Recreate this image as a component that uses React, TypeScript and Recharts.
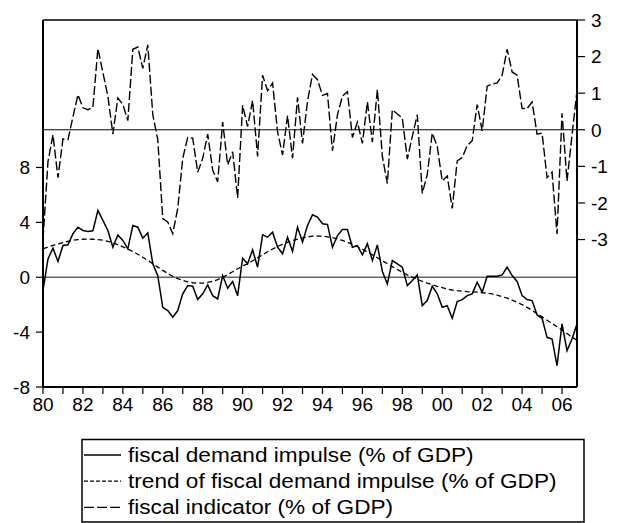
import { LineChart, Line, XAxis, YAxis, ReferenceLine } from 'recharts'

// quarterly, 1980Q1 .. 2006Q4
const yearLabels = [
  '80', '81', '82', '83', '84', '85', '86', '87', '88', '89',
  '90', '91', '92', '93', '94', '95', '96', '97', '98', '99',
  '00', '01', '02', '03', '04', '05', '06',
]

// fiscal demand impulse (% of GDP), left axis
const demandImpulse = [
  -0.97, 1.34, 2.12, 1.15, 2.31, 2.36, 3.17, 3.65, 3.41, 3.34,
  3.39, 4.87, 4.14, 3.41, 2.19, 3.09, 2.68, 2.07, 3.77, 3.65,
  2.85, 3.24, 0.98, 0.12, -2.19, -2.43, -2.92, -2.43, -1.21, -0.61,
  -0.66, -1.63, -1.21, -0.56, -1.34, -1.58, 0.12, -0.8, -0.31, -1.34,
  1.39, 0.98, 2.0, 0.73, 3.09, 2.92, 3.28, 2.19, 1.71, 2.92,
  1.88, 3.65, 2.56, 3.77, 4.55, 4.38, 3.9, 3.85, 2.19, 3.04,
  3.48, 3.48, 2.19, 2.31, 1.63, 2.44, 1.22, 2.36, 0.42, -0.48,
  1.22, 0.98, 0.73, -0.61, -0.24, 0.17, -2.07, -1.7, -0.66, -1.21,
  -2.19, -2.07, -2.99, -1.77, -1.63, -1.34, -1.21, -0.36, -1.09, 0.07,
  0.07, 0.07, 0.17, 0.73, 0.12, -0.31, -1.34, -1.63, -1.7, -2.75,
  -2.99, -4.38, -4.5, -6.45, -3.4, -5.35, -4.5, -3.4,
]

// trend of fiscal demand impulse, left axis
const demandTrend = [
  2.07, 2.2, 2.32, 2.43, 2.53, 2.62, 2.69, 2.74, 2.77, 2.78,
  2.77, 2.74, 2.7, 2.62, 2.5, 2.37, 2.22, 2.06, 1.88, 1.68,
  1.46, 1.22, 0.98, 0.74, 0.5, 0.27, 0.07, -0.1, -0.23, -0.33,
  -0.4, -0.43, -0.43, -0.38, -0.3, -0.17, 0.0, 0.19, 0.4, 0.62,
  0.82, 0.98, 1.2, 1.42, 1.64, 1.86, 2.06, 2.24, 2.4, 2.54,
  2.67, 2.78, 2.87, 2.94, 2.99, 3.0, 2.99, 2.95, 2.88, 2.79,
  2.68, 2.55, 2.4, 2.23, 2.04, 1.84, 1.63, 1.42, 1.2, 0.98,
  0.77, 0.56, 0.36, 0.17, 0.0, -0.15, -0.3, -0.43, -0.55, -0.66,
  -0.76, -0.85, -0.93, -0.98, -1.02, -1.05, -1.07, -1.09, -1.12, -1.16,
  -1.22, -1.3, -1.41, -1.53, -1.67, -1.83, -2.0, -2.2, -2.42, -2.65,
  -2.89, -3.13, -3.37, -3.61, -3.85, -4.1, -4.36, -4.6,
]

// fiscal indicator (% of GDP), right axis
const fiscalIndicator = [
  -3.0, -0.87, -0.14, -1.31, -0.25, -0.27, 0.35, 0.96, 0.6, 0.55,
  0.61, 2.22, 1.56, 0.92, -0.12, 0.87, 0.69, 0.25, 2.2, 2.26,
  1.68, 2.32, 0.41, -0.27, -2.43, -2.52, -2.84, -2.15, -0.78, -0.21,
  -0.23, -1.16, -0.78, -0.12, -1.1, -1.42, 0.21, -0.96, -0.6, -1.86,
  0.67, 0.09, 0.8, -0.73, 1.49, 1.07, 1.28, -0.05, -0.69, 0.39,
  -0.78, 0.89, -0.37, 0.78, 1.51, 1.37, 0.94, 0.99, -0.58, 0.41,
  0.92, 1.04, -0.21, 0.21, -0.37, 0.76, -0.34, 1.1, -0.73, -1.47,
  0.55, 0.43, 0.32, -0.8, -0.18, 0.41, -1.74, -1.22, -0.09, -0.46,
  -1.4, -1.26, -2.15, -0.85, -0.76, -0.43, -0.3, 0.69, -0.03, 1.19,
  1.25, 1.28, 1.49, 2.2, 1.58, 1.49, 0.58, 0.58, 0.76, -0.12,
  -0.09, -1.31, -1.16, -2.85, 0.45, -1.4, -0.15, 1.07,
]

const leftTicks = [-8, -4, 0, 4, 8]
const rightTicks = [-3, -2, -1, 0, 1, 2, 3]

const legendItems = [
  { label: 'fiscal demand impulse (% of GDP)', dash: undefined },
  { label: 'trend of fiscal demand impulse (% of GDP)', dash: '4 2' },
  { label: 'fiscal indicator (% of GDP)', dash: '10 3' },
]

const data = demandImpulse.map((v, i) => ({
  q: i,
  impulse: v,
  trend: demandTrend[i],
  indicator: fiscalIndicator[i],
}))

const xTicks = yearLabels.map((_, k) => k * 4)
const FONT = '"Liberation Sans", Arial, sans-serif'

function YearTick(props: any) {
  const { x, y, payload } = props
  const k = Math.round(payload.value / 4)
  if (k % 2 !== 0) return <g />
  return (
    <text x={x} y={y} dy="0.71em" textAnchor="middle" fontSize={19} fill="#000" fontFamily={FONT}>
      {yearLabels[k]}
    </text>
  )
}

export default function App() {
  return (
    <div style={{ position: 'absolute', left: 0, top: 0, width: 617, height: 523, background: '#fff', fontFamily: FONT }}>
      <LineChart width={617} height={417} data={data} margin={{ top: 20, right: 0, bottom: 0, left: 0 }}>
        <XAxis
          dataKey="q"
          type="number"
          domain={[0, 107]}
          ticks={xTicks}
          interval={0}
          tick={<YearTick />}
          tickSize={7}
          tickMargin={4}
          height={30}
          axisLine={{ stroke: '#000', strokeWidth: 2 }}
          tickLine={{ stroke: '#000', strokeWidth: 1.2 }}
        />
        <YAxis
          yAxisId="left"
          domain={[-8, 18.75]}
          ticks={leftTicks}
          width={43}
          tickSize={7}
          tickMargin={6}
          tick={{ fontSize: 19, fill: '#000', fontFamily: FONT }}
          axisLine={{ stroke: '#000', strokeWidth: 2 }}
          tickLine={{ stroke: '#000', strokeWidth: 1.2 }}
        />
        <YAxis
          yAxisId="right"
          orientation="right"
          domain={[-7.03, 3]}
          ticks={rightTicks}
          width={40}
          tickSize={8}
          tickMargin={6}
          tick={{ fontSize: 19, fill: '#000', fontFamily: FONT }}
          axisLine={{ stroke: '#000', strokeWidth: 2 }}
          tickLine={{ stroke: '#000', strokeWidth: 1.2 }}
        />
        <ReferenceLine yAxisId="left" y={18.75} stroke="#000" strokeWidth={1.5} />
        <ReferenceLine yAxisId="left" y={0} stroke="#666" strokeWidth={1.5} />
        <ReferenceLine yAxisId="right" y={0} stroke="#000" strokeWidth={1} />
        <Line
          yAxisId="left"
          dataKey="impulse"
          type="linear"
          stroke="#000"
          strokeWidth={1.5}
          dot={false}
          activeDot={false}
          isAnimationActive={false}
        />
        <Line
          yAxisId="left"
          dataKey="trend"
          type="linear"
          stroke="#000"
          strokeWidth={1.3}
          strokeDasharray="5 3"
          dot={false}
          activeDot={false}
          isAnimationActive={false}
        />
        <Line
          yAxisId="right"
          dataKey="indicator"
          type="linear"
          stroke="#000"
          strokeWidth={1.4}
          strokeDasharray="9 3"
          dot={false}
          activeDot={false}
          isAnimationActive={false}
        />
      </LineChart>
      <svg width={617} height={523} style={{ position: 'absolute', left: 0, top: 0, pointerEvents: 'none' }}>
        <rect x={82} y={439.5} width={502} height={82.5} fill="none" stroke="#000" strokeWidth={1.5} />
        {legendItems.map((it, r) => {
          const cy = 455 + r * 26.2
          return (
            <g key={it.label}>
              <line x1={84} x2={121} y1={cy} y2={cy} stroke="#000" strokeWidth={1.3} strokeDasharray={it.dash} />
              <g transform={`translate(128, ${cy + 7}) scale(1.16, 1)`}>
                <text x={0} y={0} fontSize={19.5} fill="#000" fontFamily={FONT}>
                  {it.label}
                </text>
              </g>
            </g>
          )
        })}
      </svg>
    </div>
  )
}
